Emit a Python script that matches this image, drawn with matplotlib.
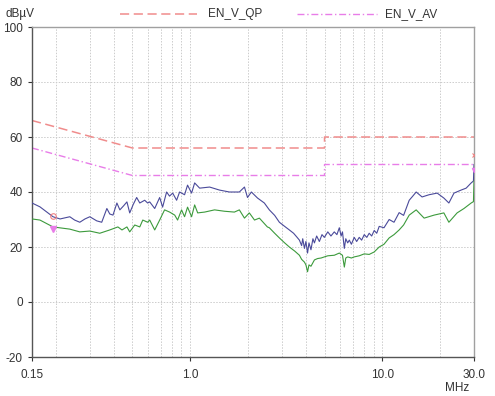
import matplotlib
matplotlib.use("Agg")
import matplotlib.pyplot as plt
from matplotlib.lines import Line2D

plt.rcParams['font.family'] = ['Liberation Sans', 'DejaVu Sans']

# Limit lines
qp_freq = [0.15, 0.5, 5.0, 5.0, 30.0]
qp_vals = [66, 56, 56, 60, 60]
av_freq = [0.15, 0.5, 5.0, 5.0, 30.0]
av_vals = [56, 46, 46, 50, 50]

# Measured traces
blue_freq = [0.150, 0.165, 0.193, 0.210, 0.236, 0.250, 0.266, 0.283, 0.300, 0.326, 0.346, 0.368, 0.381, 0.396,
             0.415, 0.430, 0.450, 0.468, 0.484, 0.505, 0.526, 0.546, 0.579, 0.600, 0.615, 0.653, 0.693, 0.718,
             0.753, 0.780, 0.810, 0.849, 0.880, 0.934, 0.968, 1.016, 1.054, 1.119, 1.261, 1.420, 1.599,
             1.801, 1.915, 1.986, 2.08, 2.24, 2.43, 2.58, 2.75, 2.91, 3.1, 3.28, 3.45, 3.60, 3.70,
             3.80, 3.85, 3.93, 4.00, 4.08, 4.15, 4.25, 4.35, 4.43, 4.55, 4.70, 4.85, 4.99, 5.2,
             5.4, 5.62, 5.8, 5.97, 6.1, 6.2, 6.34, 6.45, 6.6, 6.73, 6.9, 7.14, 7.35, 7.58, 7.8,
             8.05, 8.3, 8.54, 8.8, 9.07, 9.35, 9.63, 10.2, 10.85, 11.5, 12.23, 12.9, 13.8, 14.4,
             15.0, 16.1, 17.5, 19.3, 20.9, 22.2, 23.6, 25.7, 27.3, 29.0, 29.8, 30.0]
blue_vals = [36.0, 34.6, 31.0, 30.2, 31.0, 29.8, 29.0, 30.2, 31.0, 29.5, 29.0, 34.0, 32.0, 31.6,
             36.0, 33.5, 35.0, 36.4, 32.4, 35.5, 38.0, 36.0, 37.0, 36.0, 36.4, 34.0, 38.0, 34.5,
             40.0, 38.5, 39.6, 37.0, 40.0, 39.0, 42.5, 39.6, 43.3, 41.4, 41.8, 40.7, 40.0,
             40.0, 41.8, 38.0, 40.0, 37.8, 36.0, 33.5, 31.5, 29.0, 27.5, 26.2, 25.0, 23.5, 22.5,
             20.5, 23.0, 19.5, 22.0, 17.8, 21.5, 19.0, 23.0, 21.5, 24.0, 22.0, 24.5, 23.5, 25.5,
             24.0, 25.5, 24.5, 27.0, 24.0, 25.5, 19.5, 23.0, 21.5, 22.5, 21.0, 23.5, 22.0, 23.5, 22.5,
             24.5, 23.5, 25.0, 24.0, 26.0, 25.0, 27.5, 27.0, 30.0, 29.0, 32.5, 31.5, 37.0, 38.5,
             40.0, 38.2, 39.0, 39.6, 37.8, 36.0, 39.6, 40.7, 41.4, 43.3, 44.0, 50.0]

green_freq = [0.150, 0.165, 0.193, 0.236, 0.266, 0.300, 0.338, 0.381, 0.420, 0.441, 0.468, 0.484,
              0.514, 0.546, 0.566, 0.600, 0.615, 0.653, 0.693, 0.735, 0.781, 0.830, 0.859, 0.901,
              0.934, 0.968, 1.016, 1.054, 1.093, 1.188, 1.338, 1.507, 1.697, 1.801, 1.915, 2.03,
              2.16, 2.29, 2.52, 2.58, 2.75, 2.91, 3.1, 3.28, 3.50, 3.70, 3.80, 3.93, 4.00, 4.08,
              4.15, 4.25, 4.43, 4.6, 4.8, 4.99, 5.2, 5.62, 5.97, 6.2, 6.34, 6.45, 6.6, 6.9, 7.14,
              7.58, 8.05, 8.54, 9.07, 9.63, 10.2, 10.85, 11.5, 12.23, 12.9, 13.8, 15.0, 16.5,
              18.6, 20.9, 22.2, 24.5, 26.6, 29.0, 29.8, 30.0]
green_vals = [30.2, 29.8, 27.3, 26.5, 25.5, 25.8, 25.0, 26.2, 27.3, 26.2, 27.3, 25.5,
              28.0, 27.3, 29.8, 29.0, 29.8, 26.2, 29.8, 33.5, 32.7, 31.6, 29.8, 33.5,
              31.0, 34.5, 31.0, 35.3, 32.4, 32.7, 33.5, 33.0, 32.7, 33.5, 30.5, 32.4,
              29.8, 30.5, 27.3, 27.0, 25.0, 23.3, 21.5, 20.0, 18.5, 17.0, 15.5, 14.5, 13.5, 11.0,
              13.5, 13.0, 15.3, 15.8, 16.0, 16.4, 16.8, 17.0, 17.8, 17.0, 12.7, 16.0, 16.4, 16.0, 16.4,
              16.8, 17.5, 17.3, 18.2, 20.0, 21.0, 23.3, 24.5, 26.2, 28.0, 31.6, 33.5, 30.5,
              31.6, 32.4, 29.0, 32.4, 34.0, 36.0, 36.5, 44.0]

y_ticks = [-20, 0, 20, 40, 60, 80, 100]
x_ticks = [0.15, 1.0, 10.0, 30.0]
x_ticklabels = ["0.15", "1.0", "10.0", "30.0"]
minor_grid = [0.2, 0.3, 0.4, 0.5, 0.6, 0.7, 0.8, 0.9, 1, 2, 3, 4, 5, 6, 7, 8, 9, 10, 20]

W, H = 495, 396
fig = plt.figure(figsize=(W / 100, H / 100), dpi=100)
ax = fig.add_axes([32 / W, 1 - 357 / H, (474 - 32) / W, (357 - 27) / H])
ax.set_xscale("log")
ax.set_xlim(0.15, 30)
ax.set_ylim(-20, 100)

for f in minor_grid:
    ax.axvline(f, color="#cccccc", lw=0.7, ls=(0, (1.5, 1.5)), zorder=0)
for v in y_ticks:
    ax.axhline(v, color="#cccccc", lw=0.7, ls=(0, (1.5, 1.5)), zorder=0)

ax.plot(qp_freq, qp_vals, color="#f08c8c", lw=1.1, ls=(0, (6, 3)), zorder=2)
ax.plot(av_freq, av_vals, color="#e87de8", lw=1.0, ls=(0, (5, 2, 1, 2)), zorder=2)
ax.plot(blue_freq, blue_vals, color="#4a4a9a", lw=0.8, zorder=3)
ax.plot(green_freq, green_vals, color="#3c9a3c", lw=0.8, zorder=3)

ax.plot([0.193], [31.3], marker="o", ms=4, mfc="none", mec="#f08080", mew=0.8, zorder=4)
ax.plot([0.193], [26.5], marker="v", ms=4, color="#e87de8", zorder=4)
ax.plot([29.9], [53.5], marker="x", ms=3, color="#f08080", mew=0.8, zorder=4)
ax.plot([29.9], [48.0], marker="v", ms=3, color="#e87de8", zorder=4)

ax.set_xticks(x_ticks)
ax.set_xticklabels(x_ticklabels)
ax.xaxis.set_minor_locator(matplotlib.ticker.NullLocator())
ax.set_yticks(y_ticks)
ax.set_yticklabels([str(v) for v in y_ticks])
ax.tick_params(labelsize=8.5, colors="#333333", length=3, width=0.8)
ax.tick_params(axis="x", pad=6)

for s in ["left", "bottom"]:
    ax.spines[s].set_color("#555555")
    ax.spines[s].set_linewidth(1.0)
for s in ["top", "right"]:
    ax.spines[s].set_color("#a0a0a0")
    ax.spines[s].set_linewidth(1.0)

fig.text(5 / W, 1 - 14 / H, "dBµV", fontsize=8.5, color="#333333", va="center", ha="left")
fig.text(457 / W, 1 - 388 / H, "MHz", fontsize=8.5, color="#333333", va="center", ha="center")

fig.add_artist(Line2D([120 / W, 197 / W], [1 - 14 / H, 1 - 14 / H], color="#f08c8c", lw=1.1,
                      ls=(0, (6, 3)), transform=fig.transFigure))
fig.text(208 / W, 1 - 14 / H, "EN_V_QP", fontsize=8.5, color="#333333", va="center", ha="left")
fig.add_artist(Line2D([297 / W, 377 / W], [1 - 14 / H, 1 - 14 / H], color="#e87de8", lw=1.0,
                      ls=(0, (5, 2, 1, 2)), transform=fig.transFigure))
fig.text(385 / W, 1 - 14 / H, "EN_V_AV", fontsize=8.5, color="#333333", va="center", ha="left")

fig.savefig("out.png", dpi=100)
